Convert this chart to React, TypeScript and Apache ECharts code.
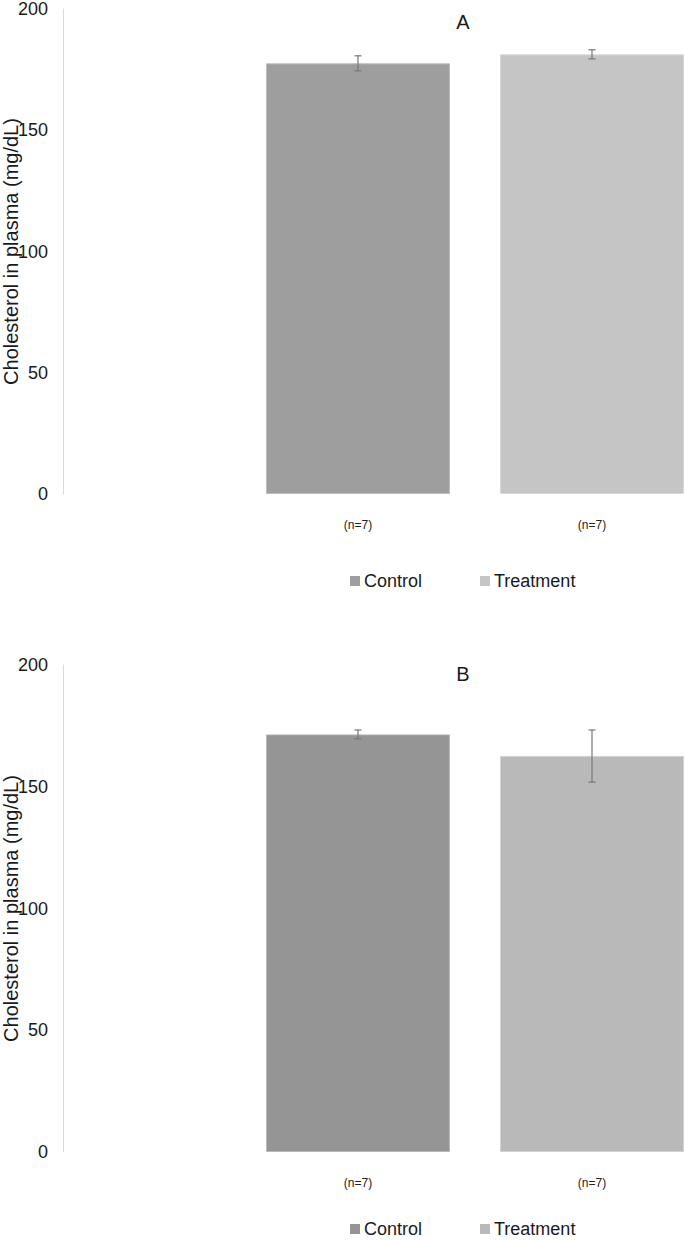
import React, { useEffect, useRef } from "react";
import * as echarts from "echarts";

const groups = ["Control", "Treatment"];
const nLabels = ["(n=7)", "(n=7)"];
const yTicks = [0, 50, 100, 150, 200];
const panelTitles = ["A", "B"];
// panel A
const meanA = [177.6, 181.3];
const errA = [3.1, 1.9];
// panel B
const meanB = [171.5, 162.6];
const errB = [1.8, 10.7];

const colorsA = ["#9e9e9e", "#c5c5c6"];
const colorsB = ["#959595", "#b9b9ba"];
const borderA = ["#bdbdbd", "#d6d6d6"];
const borderB = ["#b8b8b8", "#d2d2d2"];

const FONT = "Liberation Sans, Arial, sans-serif";

export default function App() {
  const ref = useRef<HTMLDivElement>(null);
  useEffect(() => {
    const chart = echarts.init(ref.current!, null, { renderer: "svg" });
    const grids = [
      { left: 241, width: 468, top: 9, height: 485, outerBoundsMode: "none", containLabel: false },
      { left: 241, width: 468, top: 665, height: 487, outerBoundsMode: "none", containLabel: false },
    ];
    const means = [meanA, meanB];
    const errs = [errA, errB];
    const colors = [colorsA, colorsB];
    const borders = [borderA, borderB];
    const legendTops = [567, 1215];

    const series: any[] = [];
    [0, 1].forEach((p) => {
      groups.forEach((g, gi) => {
        series.push({
          type: "bar",
          name: g,
          xAxisIndex: p,
          yAxisIndex: p,
          barWidth: 184,
          barGap: "-100%",
          data: groups.map((_, ci) => (ci === gi ? means[p][ci] : "-")),
          itemStyle: { color: colors[p][gi], borderColor: borders[p][gi], borderWidth: 1 },
        });
      });
      series.push({
        type: "custom",
        name: "err" + p,
        xAxisIndex: p,
        yAxisIndex: p,
        z: 10,
        data: groups.map((_, ci) => [ci, means[p][ci] - errs[p][ci], means[p][ci] + errs[p][ci]]),
        renderItem: (params: any, api: any) => {
          const x = api.value(0);
          const lo = api.coord([x, api.value(1)]);
          const hi = api.coord([x, api.value(2)]);
          const w = 3.5;
          const style = { stroke: "#777777", lineWidth: 1.2, fill: "none" };
          return {
            type: "group",
            children: [
              { type: "line", shape: { x1: lo[0], y1: lo[1], x2: hi[0], y2: hi[1] }, style },
              { type: "line", shape: { x1: lo[0] - w, y1: lo[1], x2: lo[0] + w, y2: lo[1] }, style },
              { type: "line", shape: { x1: hi[0] - w, y1: hi[1], x2: hi[0] + w, y2: hi[1] }, style },
            ],
          };
        },
      });
    });

    chart.setOption({
      animation: false,
      backgroundColor: "#ffffff",
      title: panelTitles.map((t, i) => ({
        text: t,
        left: 458,
        top: i === 0 ? 7 : 659,
        textAlign: "center",
        textStyle: { fontFamily: FONT, fontSize: 20, fontWeight: "normal", color: "#1a1a1a" },
      })),
      legend: [0, 1].map((p) => ({
        data: groups.map((g, gi) => ({ name: g, itemStyle: { color: colors[p][gi], borderWidth: 0 } })),
        left: 345,
        top: legendTops[p],
        itemWidth: 10,
        itemHeight: 10,
        itemGap: 58,
        icon: "rect",
        selectedMode: false,
        textStyle: { fontFamily: FONT, fontSize: 18, color: "#1a1a1a", padding: [0, 0, 0, -1] },
      })),
      grid: grids,
      xAxis: [0, 1].map((p) => ({
        type: "category",
        gridIndex: p,
        data: groups,
        axisLine: { show: false },
        axisTick: { show: false },
        axisLabel: {
          margin: 25,
          formatter: (_v: string, i: number) => nLabels[i],
          fontFamily: FONT,
          fontSize: 12,
          color: "#222",
        },
      })),
      yAxis: [0, 1].map((p) => ({
        type: "value",
        gridIndex: p,
        min: yTicks[0],
        max: yTicks[yTicks.length - 1],
        interval: 50,
        offset: 178,
        name: "Cholesterol in plasma (mg/dL)",
        nameLocation: "middle",
        nameGap: 42,
        nameMoveOverlap: false,
        nameTextStyle: { fontFamily: FONT, fontSize: 20, color: "#1a1a1a" },
        axisLine: { show: true, lineStyle: { color: "#d9d9d9", width: 1 } },
        axisTick: { show: false },
        splitLine: { show: false },
        axisLabel: { margin: 15, fontFamily: FONT, fontSize: 18, color: "#1a1a1a" },
      })),
      series,
    });
    return () => chart.dispose();
  }, []);
  return (
    <div
      ref={ref}
      style={{ position: "absolute", left: 0, top: 0, width: 685, height: 1240, background: "#fff" }}
    />
  );
}
